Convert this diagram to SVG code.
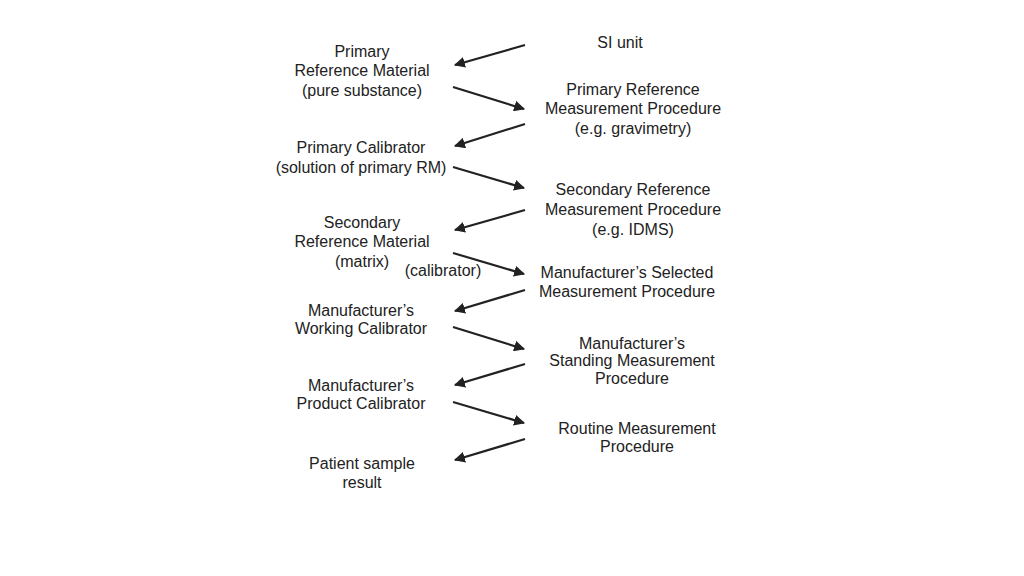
<svg xmlns="http://www.w3.org/2000/svg" width="1024" height="576" viewBox="0 0 1024 576">
<style>
text{font-family:"Liberation Sans",Arial,sans-serif;font-size:16px;fill:#222;text-anchor:middle}
.c line{stroke:#222;stroke-width:2.2}
</style>
<defs>
<marker id="ah" viewBox="0 0 10 10" refX="9" refY="5" markerWidth="5" markerHeight="5" orient="auto" markerUnits="strokeWidth">
<path d="M0,0 L10,5 L0,10 z" fill="#222"/>
</marker>
</defs>
<rect width="1024" height="576" fill="#fff"/>
<g id="n-si"><text x="620" y="48">SI unit</text></g>
<g id="n-prm"><text x="362" y="57">Primary</text><text x="362" y="76">Reference Material</text><text x="362" y="96">(pure substance)</text></g>
<g id="n-prmp"><text x="633" y="95">Primary Reference</text><text x="633" y="114">Measurement Procedure</text><text x="633" y="134">(e.g. gravimetry)</text></g>
<g id="n-pc"><text x="361" y="153">Primary Calibrator</text><text x="361" y="173">(solution of primary RM)</text></g>
<g id="n-srmp"><text x="633" y="195">Secondary Reference</text><text x="633" y="215">Measurement Procedure</text><text x="633" y="235">(e.g. IDMS)</text></g>
<g id="n-srm"><text x="362" y="228">Secondary</text><text x="362" y="247">Reference Material</text><text x="362" y="267">(matrix)</text></g>
<g id="n-cal"><text x="443" y="276">(calibrator)</text></g>
<g id="n-msmp"><text x="627" y="278">Manufacturer’s Selected</text><text x="627" y="297">Measurement Procedure</text></g>
<g id="n-mwc"><text x="361" y="316">Manufacturer’s</text><text x="361" y="334">Working Calibrator</text></g>
<g id="n-mstmp"><text x="632" y="349">Manufacturer’s</text><text x="632" y="366">Standing Measurement</text><text x="632" y="384">Procedure</text></g>
<g id="n-mpc"><text x="361" y="391">Manufacturer’s</text><text x="361" y="409">Product Calibrator</text></g>
<g id="n-rmp"><text x="637" y="434">Routine Measurement</text><text x="637" y="452">Procedure</text></g>
<g id="n-psr"><text x="362" y="469">Patient sample</text><text x="362" y="488">result</text></g>
<g id="connectors" class="c">
<line x1="525" y1="45" x2="455" y2="65" marker-end="url(#ah)"/>
<line x1="453" y1="87" x2="524" y2="109" marker-end="url(#ah)"/>
<line x1="525" y1="124" x2="455" y2="146" marker-end="url(#ah)"/>
<line x1="453" y1="167" x2="524" y2="188" marker-end="url(#ah)"/>
<line x1="525" y1="210" x2="455" y2="230" marker-end="url(#ah)"/>
<line x1="453" y1="253" x2="524" y2="274" marker-end="url(#ah)"/>
<line x1="525" y1="290" x2="455" y2="311" marker-end="url(#ah)"/>
<line x1="453" y1="327" x2="524" y2="349" marker-end="url(#ah)"/>
<line x1="525" y1="364" x2="455" y2="385" marker-end="url(#ah)"/>
<line x1="453" y1="402" x2="524" y2="423" marker-end="url(#ah)"/>
<line x1="525" y1="439" x2="455" y2="460" marker-end="url(#ah)"/>
</g>
</svg>
